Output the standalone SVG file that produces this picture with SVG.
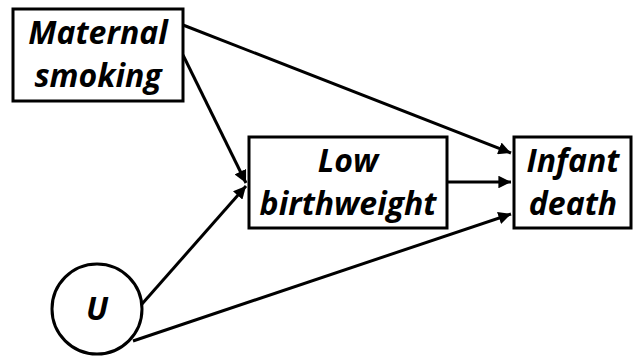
<svg xmlns="http://www.w3.org/2000/svg" width="634" height="358" viewBox="0 0 634 358">
<style>
.box{fill:#fff;stroke:#000;stroke-width:3}
.t{font-family:"Open Sans","Liberation Sans",sans-serif;font-weight:bold;font-style:italic;font-size:32px;fill:#000;text-anchor:middle}
.e{stroke:#000;stroke-width:3;fill:none;marker-end:url(#ah)}
</style>
<defs>
<marker id="ah" viewBox="0 0 10 10" refX="10" refY="5" markerWidth="4.3" markerHeight="4.2" markerUnits="strokeWidth" orient="auto">
<path d="M0,0 L10,5 L0,10 z" fill="#000"/>
</marker>
</defs>
<g id="connectors">
<line class="e" x1="183" y1="25" x2="511" y2="153"/>
<line class="e" x1="183" y1="55" x2="246" y2="183"/>
<line class="e" x1="142" y1="304" x2="246" y2="186"/>
<line class="e" x1="133" y1="341" x2="511" y2="214"/>
<line class="e" x1="447" y1="182" x2="511" y2="182"/>
</g>
<g id="maternal">
<rect class="box" x="13" y="9" width="170" height="92"/>
<text class="t" x="98" y="44">Maternal</text>
<text class="t" x="98" y="87">smoking</text>
</g>
<g id="low">
<rect class="box" x="249" y="137" width="198" height="91"/>
<text class="t" x="348" y="172">Low</text>
<text class="t" x="348" y="215">birthweight</text>
</g>
<g id="infant">
<rect class="box" x="514" y="137" width="117" height="91"/>
<text class="t" x="573" y="172">Infant</text>
<text class="t" x="573" y="215">death</text>
</g>
<g id="u">
<circle class="box" cx="97" cy="309" r="45"/>
<text class="t" x="97" y="320">U</text>
</g>
</svg>
